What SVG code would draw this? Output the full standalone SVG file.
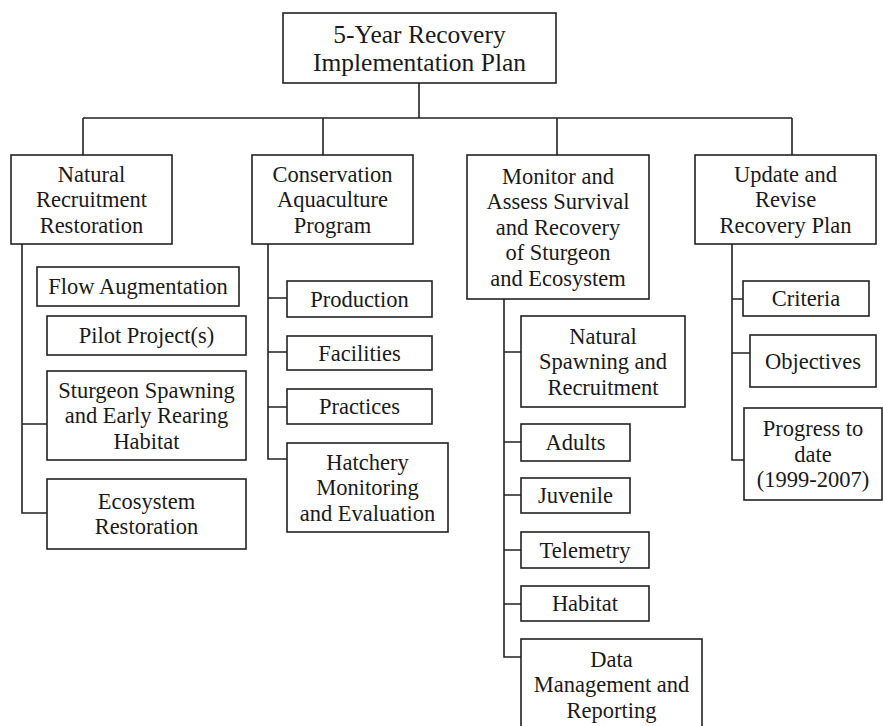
<svg xmlns="http://www.w3.org/2000/svg" width="883" height="726" viewBox="0 0 883 726">
  <style>
    .box { fill: #ffffff; stroke: #222222; stroke-width: 1.6; }
    .wire { fill: none; stroke: #222222; stroke-width: 1.6; }
    text { font-size: 22.5px; fill: #1a1a1a; text-anchor: middle; }
    .title { font-size: 25.5px; }
  </style>
  <rect width="883" height="726" fill="#ffffff"/>

  <!-- connectors -->
  <g id="connectors">
    <path class="wire" d="M419 83 V118 M83 118 H792 M83 118 V155 M323 118 V155 M557 118 V155 M792 118 V155"/>
    <path class="wire" d="M22 244 V513 H47 M22 424 H47"/>
    <path class="wire" d="M268 244 V459 H287 M268 298 H287 M268 352 H287 M268 407 H287"/>
    <path class="wire" d="M504 299 V657 H521 M504 352 H521 M504 442 H521 M504 495 H521 M504 550 H521 M504 604 H521"/>
    <path class="wire" d="M732 244 V460 H744 M732 299 H743 M732 353 H750"/>
  </g>

  <g id="nodes" font-family="Liberation Serif">
  <!-- root -->
  <g id="plan">
    <rect class="box" x="283" y="13" width="273" height="70"/>
    <text class="title" x="419.5" y="42.5">5-Year Recovery</text>
    <text class="title" x="419.5" y="70.5">Implementation Plan</text>
  </g>

  <!-- first level -->
  <g id="natural-recruitment">
    <rect class="box" x="11" y="155" width="161" height="89"/>
    <text x="91.5" y="181.5">Natural</text>
    <text x="91.5" y="207">Recruitment</text>
    <text x="91.5" y="232.5">Restoration</text>
  </g>
  <g id="conservation-aquaculture">
    <rect class="box" x="252" y="155" width="161" height="89"/>
    <text x="332.5" y="181.5">Conservation</text>
    <text x="332.5" y="207">Aquaculture</text>
    <text x="332.5" y="232.5">Program</text>
  </g>
  <g id="monitor-assess">
    <rect class="box" x="467" y="155" width="182" height="144"/>
    <text x="558" y="183.5">Monitor and</text>
    <text x="558" y="209">Assess Survival</text>
    <text x="558" y="234.5">and Recovery</text>
    <text x="558" y="260">of Sturgeon</text>
    <text x="558" y="285.5">and Ecosystem</text>
  </g>
  <g id="update-revise">
    <rect class="box" x="695" y="155" width="181" height="89"/>
    <text x="785.5" y="181.5">Update and</text>
    <text x="785.5" y="207">Revise</text>
    <text x="785.5" y="232.5">Recovery Plan</text>
  </g>

  <!-- natural recruitment items -->
  <g id="flow-augmentation">
    <rect class="box" x="37" y="267" width="202" height="39"/>
    <text x="138" y="294">Flow Augmentation</text>
  </g>
  <g id="pilot-projects">
    <rect class="box" x="47" y="316" width="199" height="39"/>
    <text x="146.5" y="343">Pilot Project(s)</text>
  </g>
  <g id="spawning-habitat">
    <rect class="box" x="47" y="371" width="199" height="89"/>
    <text x="146.5" y="397.5">Sturgeon Spawning</text>
    <text x="146.5" y="423">and Early Rearing</text>
    <text x="146.5" y="448.5">Habitat</text>
  </g>
  <g id="ecosystem-restoration">
    <rect class="box" x="47" y="479" width="199" height="70"/>
    <text x="146.5" y="508.75">Ecosystem</text>
    <text x="146.5" y="534.25">Restoration</text>
  </g>

  <!-- aquaculture items -->
  <g id="production">
    <rect class="box" x="287" y="281" width="145" height="36"/>
    <text x="359.5" y="306.5">Production</text>
  </g>
  <g id="facilities">
    <rect class="box" x="287" y="336" width="145" height="34"/>
    <text x="359.5" y="360.5">Facilities</text>
  </g>
  <g id="practices">
    <rect class="box" x="287" y="389" width="145" height="35"/>
    <text x="359.5" y="414">Practices</text>
  </g>
  <g id="hatchery-monitoring">
    <rect class="box" x="287" y="443" width="161" height="89"/>
    <text x="367.5" y="469.5">Hatchery</text>
    <text x="367.5" y="495">Monitoring</text>
    <text x="367.5" y="520.5">and Evaluation</text>
  </g>

  <!-- monitoring items -->
  <g id="natural-spawning">
    <rect class="box" x="521" y="316" width="164" height="91"/>
    <text x="603" y="343.5">Natural</text>
    <text x="603" y="369">Spawning and</text>
    <text x="603" y="394.5">Recruitment</text>
  </g>
  <g id="adults">
    <rect class="box" x="521" y="424" width="109" height="37"/>
    <text x="575.5" y="450">Adults</text>
  </g>
  <g id="juvenile">
    <rect class="box" x="521" y="478" width="109" height="35"/>
    <text x="575.5" y="503">Juvenile</text>
  </g>
  <g id="telemetry">
    <rect class="box" x="521" y="532" width="128" height="36"/>
    <text x="585" y="557.5">Telemetry</text>
  </g>
  <g id="habitat">
    <rect class="box" x="521" y="586" width="128" height="35"/>
    <text x="585" y="611">Habitat</text>
  </g>
  <g id="data-management">
    <rect class="box" x="521" y="639" width="181" height="92"/>
    <text x="611.5" y="666.5">Data</text>
    <text x="611.5" y="692">Management and</text>
    <text x="611.5" y="717.5">Reporting</text>
  </g>

  <!-- plan revision items -->
  <g id="criteria">
    <rect class="box" x="743" y="281" width="126" height="35"/>
    <text x="806" y="306">Criteria</text>
  </g>
  <g id="objectives">
    <rect class="box" x="750" y="335" width="126" height="52"/>
    <text x="813" y="368.5">Objectives</text>
  </g>
  <g id="progress">
    <rect class="box" x="744" y="408" width="138" height="92"/>
    <text x="813" y="436">Progress to</text>
    <text x="813" y="461.5">date</text>
    <text x="813" y="487">(1999-2007)</text>
  </g>
  </g>
</svg>
